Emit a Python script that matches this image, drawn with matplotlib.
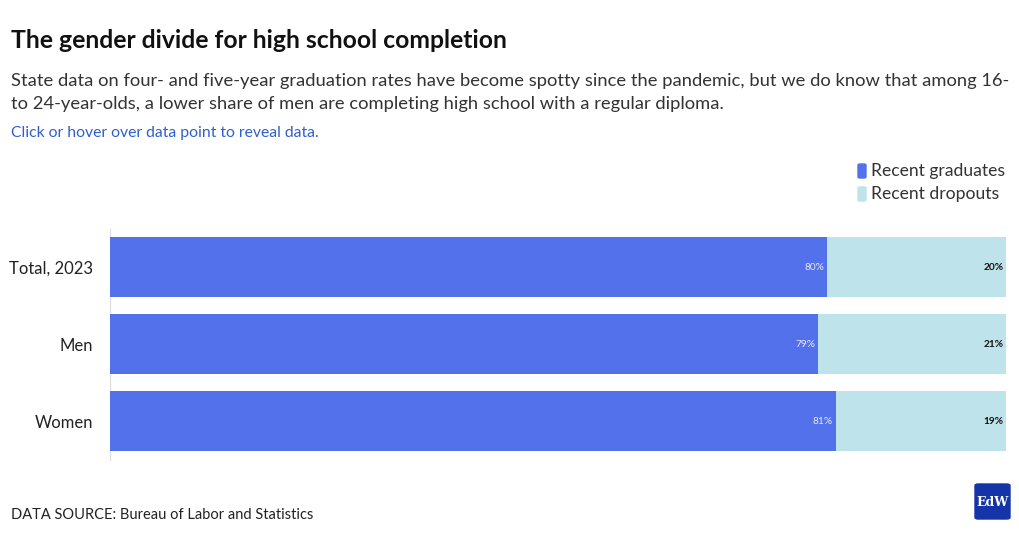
import matplotlib
matplotlib.use('Agg')
import matplotlib.pyplot as plt
from matplotlib.patches import FancyBboxPatch

plt.rcParams['font.family'] = ['Lato', 'DejaVu Sans']

# Dados
categorias = ['Total, 2023', 'Men', 'Women']
graduados = [80, 79, 81]
abandono = [20, 21, 19]
legenda = ['Recent graduates', 'Recent dropouts']

COR_GRAD = '#5271EA'
COR_ABAN = '#BEE3EA'

W, H = 1020, 534
fig = plt.figure(figsize=(W / 100, H / 100), dpi=100)


def fx(px):
    return px / W


def fy(py):
    return 1 - py / H


# Títulos
fig.text(fx(11), fy(40), 'The gender divide for high school completion',
         fontsize=17.8, fontweight='bold', color='#111111', va='center')
fig.text(fx(11), fy(81), 'State data on four- and five-year graduation rates have become spotty since the pandemic, but we do know that among 16-',
         fontsize=13.2, color='#333333', va='center')
fig.text(fx(11), fy(104), 'to 24-year-olds, a lower share of men are completing high school with a regular diploma.',
         fontsize=13.2, color='#333333', va='center')
fig.text(fx(11), fy(133), 'Click or hover over data point to reveal data.',
         fontsize=11.3, color='#2E5FCC', va='center')

# Legenda
for i, (nome, cor) in enumerate(zip(legenda, [COR_GRAD, COR_ABAN])):
    y = 171 + 23 * i
    fig.patches.append(FancyBboxPatch((fx(858), fy(y + 7)), fx(8), 14 / H,
                                      boxstyle='round,pad=0,rounding_size=0.002',
                                      transform=fig.transFigure, color=cor))
    fig.text(fx(871), fy(y), nome, fontsize=12.6, color='#333333', va='center')

# Barras
ax = fig.add_axes([fx(110), fy(459.5), fx(1006) - fx(110), (459.5 - 228.5) / H])
pos = list(range(len(categorias)))
ax.barh(pos, graduados, height=0.78, color=COR_GRAD)
ax.barh(pos, abandono, left=graduados, height=0.78, color=COR_ABAN)
for p, g, a in zip(pos, graduados, abandono):
    ax.text(g - 0.3, p, f'{g}%', ha='right', va='center', fontsize=7.3,
            color='#E8ECFF')
    ax.text(g + a - 0.3, p, f'{a}%', ha='right', va='center', fontsize=7.3,
            color='#111111', fontweight='bold')

ax.set_xlim(0, 100)
ax.set_ylim(2.5, -0.5)
ax.set_yticks(pos)
ax.set_yticklabels(categorias, fontsize=12, color='#222222')
ax.set_xticks([])
ax.tick_params(axis='y', length=0, pad=12)
for lado in ['top', 'right', 'bottom']:
    ax.spines[lado].set_visible(False)
ax.spines['left'].set_color('#DDDDDD')
ax.spines['left'].set_zorder(0)

# Rodapé
fig.text(fx(11), fy(515), 'DATA SOURCE: Bureau of Labor and Statistics',
         fontsize=10.5, color='#222222', va='center')
fig.patches.append(FancyBboxPatch((fx(975), fy(519)), fx(35), 35 / H,
                                  boxstyle='round,pad=0,rounding_size=0.003',
                                  transform=fig.transFigure, color='#1534A8'))
fig.text(fx(992.5), fy(502), 'EdW', fontsize=9, color='white',
         family='DejaVu Serif', ha='center', va='center', fontweight='bold')

fig.savefig('out.png', dpi=100)
